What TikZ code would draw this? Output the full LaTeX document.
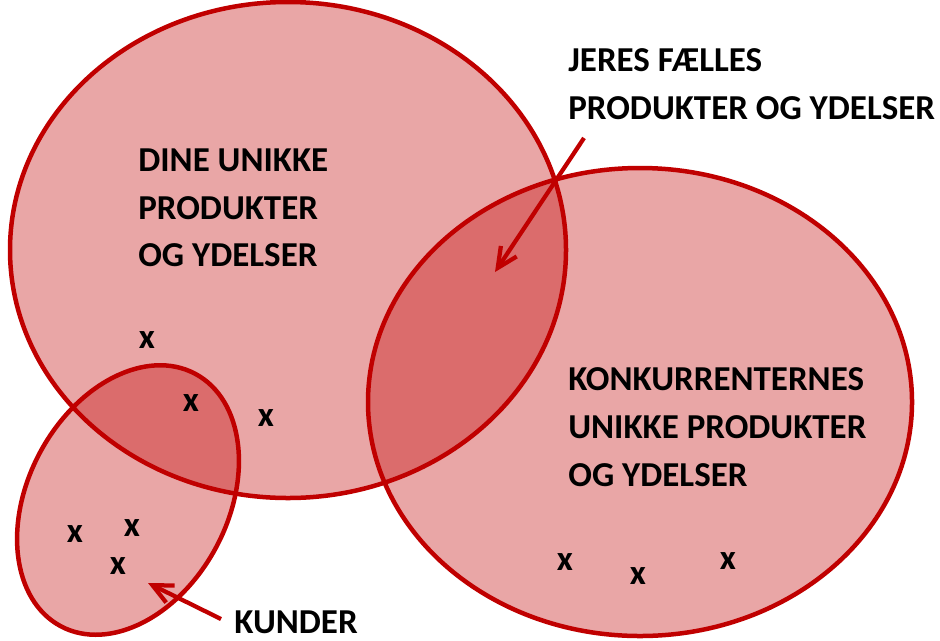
\documentclass[tikz,border=0pt]{standalone}
\usepackage{fontspec}
\setmainfont{Carlito}
\definecolor{vennred}{RGB}{192, 0, 0}
\usetikzlibrary{arrows.meta}

\tikzset{
  vennfill/.style={fill=vennred, fill opacity=0.35},
  vennline/.style={draw=vennred, line width=0.9mm},
  vennlabel/.style={inner sep=0pt, align=left, anchor=north west,
    font=\fontsize{19.9}{27.3}\selectfont\bfseries},
  kryds/.style={inner sep=0pt, font=\fontsize{19.9}{20}\selectfont\bfseries},
  pointer/.style={draw=vennred, line width=0.85mm,
    -{Straight Barb[length=4mm, width=3.8mm]}}
}

\begin{document}
\begin{tikzpicture}[x=0.2mm, y=-0.2mm]
  \useasboundingbox (0,0) rectangle (940,640);

  % fills first, outlines on top
  \fill[vennfill] (288,250) ellipse [x radius=278, y radius=248];
  \fill[vennfill] (640,402) ellipse [x radius=272, y radius=234];
  \fill[vennfill, rotate around={62:(128,500)}] (128,500) ellipse [x radius=143, y radius=100];
  \draw[vennline] (288,250) ellipse [x radius=278, y radius=248];
  \draw[vennline] (640,402) ellipse [x radius=272, y radius=234];
  \draw[vennline, rotate around={62:(128,500)}] (128,500) ellipse [x radius=143, y radius=100];

  % labels
  \node[vennlabel] (dine) at (138,148) {DINE UNIKKE\\PRODUKTER\\OG YDELSER};
  \node[vennlabel] (faelles) at (568,48) {JERES FÆLLES\\PRODUKTER OG YDELSER};
  \node[vennlabel] (konk) at (568,367) {KONKURRENTERNES\\UNIKKE PRODUKTER\\OG YDELSER};
  \node[kryds, anchor=base west] (kunder) at (234,633) {KUNDER};

  % customers
  \foreach \n/\px/\py in {1/147/340, 2/191/403, 3/266/418, 4/75/534, 5/132/528,
                          6/118/566, 7/565/562, 8/638/576, 9/728/561}
    \node[kryds] (x\n) at (\px,\py) {x};

  % pointers
  \coordinate (faellesfrom) at (584,138);
  \coordinate (faellestip) at (495,272);
  \coordinate (kunderfrom) at (221,619);
  \coordinate (kundertip) at (148,583);
  \draw[pointer] (faellesfrom) -- (faellestip);
  \draw[pointer] (kunderfrom) -- (kundertip);
\end{tikzpicture}
\end{document}
